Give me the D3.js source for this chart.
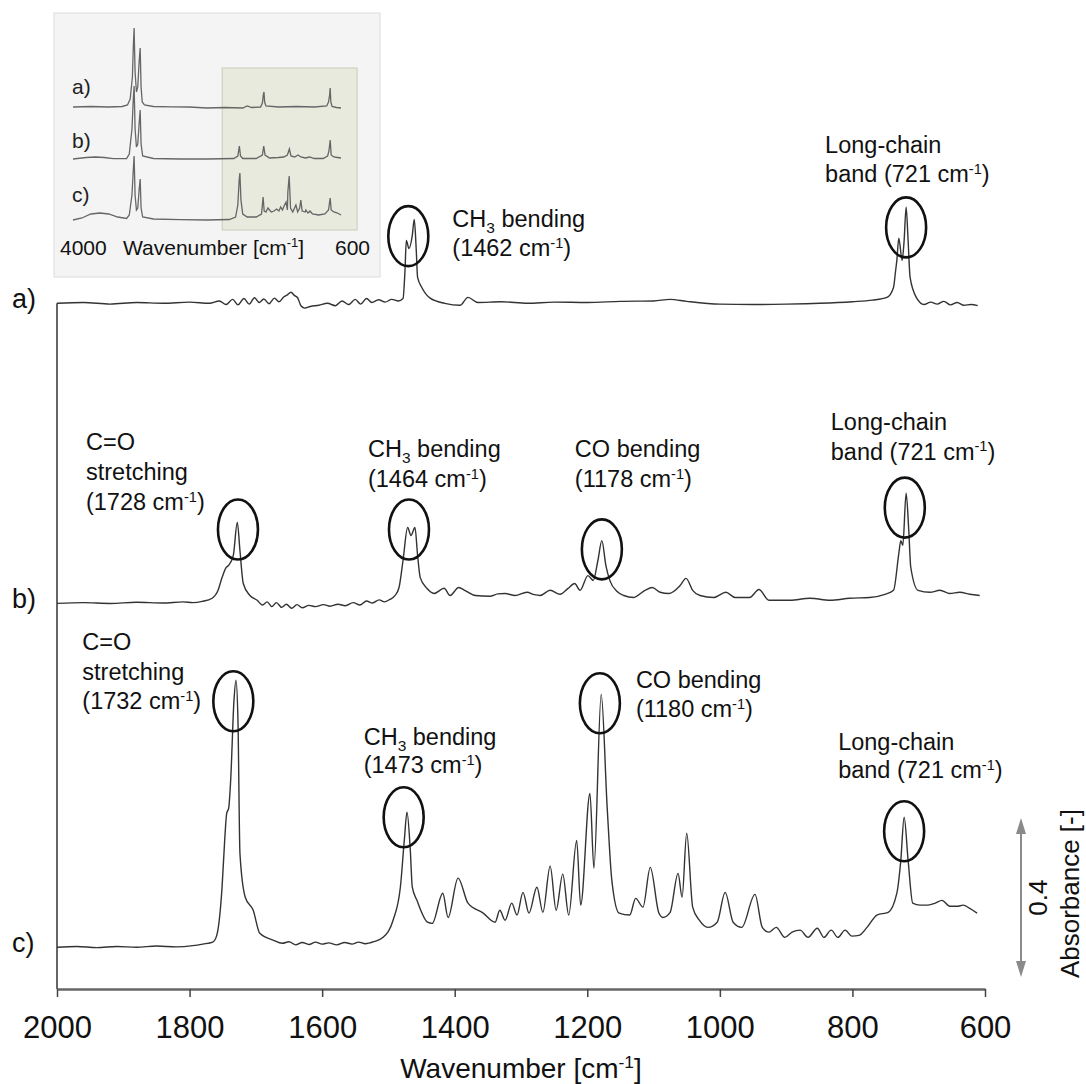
<!DOCTYPE html>
<html>
<head>
<meta charset="utf-8">
<script src="https://cdn.jsdelivr.net/npm/d3@7"></script>
<style>
  body { margin: 0; background: #fff; }
  svg { font-family: "Liberation Sans", Arial, sans-serif; }
</style>
</head>
<body>
<script>
const width = 1086;
const height = 1084;

// [wavenumber cm-1, absorbance above the trace's own baseline]
const spectrumA = [[2000,0],[1960,0.002],[1920,-0.002],[1880,0.002],[1840,0],[1800,0.003],[1770,0],[1755,0.006],[1745,-0.003],[1735,0.01],[1727,-0.004],[1718,0.012],[1710,-0.002],[1702,0.014],[1695,0.002],[1688,0.011],[1680,-0.001],[1672,0.013],[1665,0.004],[1658,0.016],[1652,0.022],[1647,0.028],[1642,0.02],[1637,0.014],[1632,-0.006],[1626,-0.012],[1618,-0.008],[1605,-0.005],[1592,0],[1580,-0.006],[1570,0.006],[1560,-0.003],[1550,0.01],[1542,-0.002],[1533,0.012],[1525,0.002],[1515,0.009],[1505,0.003],[1495,0.01],[1485,0.006],[1478,0.012],[1475,0.083],[1473,0.158],[1469,0.138],[1464,0.171],[1461,0.211],[1458,0.133],[1456,0.065],[1449,0.038],[1437,0.013],[1415,0],[1392,-0.005],[1380,0.015],[1365,0.002],[1330,0.004],[1290,0],[1250,0.003],[1200,0.002],[1150,0.005],[1100,0.006],[1075,0.01],[1050,0.005],[1000,-0.002],[950,-0.003],[900,-0.002],[850,0],[800,0.004],[770,0.008],[748,0.015],[738,0.04],[735,0.08],[733,0.108],[730,0.164],[725,0.108],[722,0.158],[719,0.242],[716,0.158],[713,0.065],[703,0.013],[692,-0.003],[682,0.003],[672,-0.002],[662,0.005],[652,-0.004],[642,0.002],[632,-0.005],[621,-0.003],[611,-0.006]];

const spectrumB = [[2000,0],[1960,0.002],[1920,0],[1880,0.003],[1840,0.001],[1810,0.004],[1795,0.002],[1781,0.005],[1766,0.013],[1757,0.033],[1751,0.065],[1745,0.09],[1741,0.096],[1734,0.121],[1728,0.204],[1724,0.133],[1719,0.05],[1709,0.02],[1698,0.008],[1690,-0.004],[1683,0.004],[1676,-0.008],[1669,0.002],[1661,-0.01],[1654,-0.002],[1646,-0.012],[1638,-0.003],[1630,-0.011],[1620,-0.005],[1610,-0.008],[1598,-0.003],[1588,-0.007],[1576,-0.002],[1565,-0.006],[1553,0.002],[1543,-0.004],[1533,0.006],[1524,0.001],[1514,0.009],[1506,0.004],[1498,0.01],[1490,0.02],[1484,0.04],[1478,0.108],[1471,0.191],[1466,0.171],[1460,0.191],[1456,0.121],[1452,0.065],[1442,0.038],[1431,0.025],[1416,0.038],[1407,0.02],[1394,0.04],[1385,0.033],[1369,0.02],[1347,0.018],[1335,0.024],[1324,0.025],[1309,0.02],[1291,0.028],[1280,0.022],[1271,0.02],[1256,0.033],[1241,0.023],[1229,0.038],[1219,0.05],[1211,0.033],[1199,0.07],[1191,0.058],[1184,0.108],[1178,0.158],[1172,0.096],[1166,0.058],[1155,0.03],[1145,0.02],[1130,0.015],[1113,0.033],[1102,0.04],[1090,0.028],[1077,0.025],[1060,0.045],[1051,0.063],[1041,0.033],[1030,0.02],[1009,0.015],[991,0.028],[977,0.015],[955,0.015],[941,0.035],[926,0.008],[894,0.008],[864,0.013],[834,0.008],[804,0.013],[774,0.015],[751,0.023],[738,0.033],[730,0.126],[727,0.158],[724,0.146],[719,0.277],[715,0.184],[712,0.091],[701,0.033],[683,0.028],[668,0.033],[653,0.025],[638,0.028],[623,0.023],[608,0.02]];

const spectrumC = [[2000,0],[1970,0.002],[1940,-0.001],[1910,0.002],[1880,0],[1850,0.003],[1820,0.001],[1795,0.004],[1780,0.008],[1765,0.013],[1759,0.03],[1751,0.151],[1747,0.27],[1744,0.337],[1741,0.35],[1738,0.42],[1733,0.621],[1730,0.672],[1727,0.571],[1724,0.236],[1716,0.126],[1704,0.093],[1694,0.035],[1674,0.018],[1660,0.01],[1650,0.014],[1640,0.006],[1630,0.012],[1620,0.007],[1610,0.013],[1600,0.008],[1590,0.011],[1578,0.006],[1566,0.012],[1555,0.008],[1545,0.013],[1535,0.009],[1522,0.014],[1508,0.025],[1493,0.068],[1482,0.151],[1476,0.27],[1472,0.34],[1467,0.244],[1464,0.151],[1457,0.118],[1441,0.063],[1434,0.06],[1418,0.136],[1410,0.075],[1395,0.174],[1380,0.111],[1357,0.086],[1339,0.063],[1332,0.093],[1324,0.068],[1314,0.111],[1306,0.081],[1297,0.138],[1288,0.086],[1276,0.151],[1267,0.088],[1256,0.204],[1247,0.093],[1237,0.184],[1228,0.081],[1216,0.269],[1210,0.106],[1196,0.387],[1190,0.199],[1179,0.636],[1170,0.352],[1163,0.169],[1152,0.086],[1136,0.081],[1127,0.123],[1116,0.101],[1105,0.201],[1092,0.086],[1086,0.075],[1075,0.088],[1063,0.186],[1057,0.126],[1050,0.287],[1041,0.101],[1031,0.068],[1018,0.05],[1004,0.063],[992,0.138],[980,0.063],[967,0.05],[947,0.133],[936,0.05],[926,0.038],[915,0.05],[902,0.025],[891,0.038],[879,0.043],[867,0.025],[853,0.048],[843,0.025],[832,0.043],[822,0.025],[811,0.043],[801,0.028],[790,0.03],[778,0.05],[763,0.081],[746,0.088],[733,0.136],[727,0.219],[722,0.327],[716,0.219],[709,0.111],[698,0.106],[686,0.106],[675,0.111],[665,0.118],[653,0.103],[642,0.103],[633,0.106],[623,0.098],[612,0.086]];

const traceNames = ["a)", "b)", "c)"];
const traceOffsets = [1.62, 0.865, 0];
const xTicks = [2000, 1800, 1600, 1400, 1200, 1000, 800, 600];

// overview inset, full range
const insetA = [[3600,0],[3400,0.005],[3200,0],[3050,0.005],[2990,0.02],[2960,0.08],[2935,0.3],[2925,0.6],[2916,0.79],[2905,0.35],[2890,0.15],[2875,0.2],[2860,0.45],[2848,0.59],[2838,0.2],[2825,0.05],[2800,0.02],[2700,0.005],[2500,0.002],[2300,0],[2100,-0.01],[1900,-0.005],[1700,-0.01],[1650,0.01],[1600,-0.005],[1500,0],[1480,0.04],[1470,0.12],[1462,0.15],[1455,0.05],[1440,0.01],[1300,0],[1100,0.005],[900,0],[760,0.01],[740,0.05],[727,0.12],[721,0.19],[714,0.05],[700,0.005],[650,-0.005],[600,-0.01]];
const insetB = [[3600,0],[3450,0.015],[3350,0.02],[3250,0.015],[3150,0.003],[3000,0.005],[2970,0.05],[2940,0.3],[2925,0.6],[2916,0.73],[2905,0.3],[2890,0.12],[2875,0.15],[2860,0.35],[2848,0.49],[2838,0.15],[2820,0.03],[2700,0.005],[2400,0],[2100,0],[1800,0.005],[1755,0.03],[1738,0.13],[1725,0.03],[1700,0.005],[1550,0.005],[1480,0.04],[1465,0.13],[1450,0.04],[1400,0.01],[1300,0.015],[1240,0.02],[1200,0.04],[1178,0.1],[1160,0.03],[1120,0.02],[1080,0.04],[1050,0.02],[1000,0.01],[950,0.02],[900,0.005],[800,0.005],[750,0.03],[735,0.08],[721,0.19],[710,0.04],[680,0.02],[640,0.015],[600,0.01]];
const insetC = [[3600,0],[3500,0.02],[3400,0.06],[3300,0.07],[3200,0.06],[3100,0.03],[3000,0.015],[2970,0.05],[2940,0.25],[2925,0.5],[2916,0.64],[2905,0.25],[2890,0.1],[2875,0.12],[2860,0.3],[2848,0.41],[2838,0.12],[2820,0.03],[2700,0.01],[2400,0.003],[2100,0],[1850,0.005],[1780,0.03],[1755,0.15],[1740,0.4],[1732,0.47],[1720,0.2],[1700,0.06],[1650,0.03],[1550,0.03],[1490,0.06],[1472,0.23],[1460,0.09],[1440,0.08],[1418,0.12],[1400,0.1],[1380,0.08],[1350,0.09],[1320,0.11],[1295,0.09],[1275,0.13],[1255,0.1],[1237,0.14],[1215,0.18],[1200,0.1],[1195,0.28],[1180,0.44],[1165,0.12],[1140,0.08],[1105,0.15],[1085,0.08],[1063,0.12],[1050,0.2],[1035,0.09],[1000,0.08],[993,0.1],[970,0.07],[947,0.09],[920,0.06],[850,0.05],[780,0.06],[740,0.1],[721,0.22],[710,0.1],[680,0.08],[640,0.07],[600,0.05]];
const insetOffsets = [1.13, 0.61, 0];
const insetZoomRange = [1930, 420];

// circled bands: trace index, circle centre (wavenumber, absorbance above baseline), label lines
const peakNotes = [
  { trace: 0, wn: 1470, abs: 0.169, dx: 44, dy: [-9, 20], lines: ["CH_{3} bending", "(1462 cm^{-1})"] },
  { trace: 0, wn: 719, abs: 0.191, dx: -81, dy: [-74, -45], lines: ["Long-chain", "band (721 cm^{-1})"] },
  { trace: 1, wn: 1727, abs: 0.186, dx: -152, dy: [-79, -49, -19], lines: ["C=O", "stretching", "(1728 cm^{-1})"] },
  { trace: 1, wn: 1469, abs: 0.186, dx: -41, dy: [-72, -42], lines: ["CH_{3} bending", "(1464 cm^{-1})"] },
  { trace: 1, wn: 1178, abs: 0.136, dx: -27, dy: [-92, -62], lines: ["CO bending", "(1178 cm^{-1})"] },
  { trace: 1, wn: 721, abs: 0.241, dx: -74, dy: [-78, -48], lines: ["Long-chain", "band (721 cm^{-1})"] },
  { trace: 2, wn: 1734, abs: 0.619, dx: -151, dy: [-51, -21, 8], lines: ["C=O", "stretching", "(1732 cm^{-1})"] },
  { trace: 2, wn: 1477, abs: 0.327, dx: -40, dy: [-72, -44], lines: ["CH_{3} bending", "(1473 cm^{-1})"] },
  { trace: 2, wn: 1181, abs: 0.614, dx: 36, dy: [-15, 14], lines: ["CO bending", "(1180 cm^{-1})"] },
  { trace: 2, wn: 722, abs: 0.292, dx: -66, dy: [-81, -53], lines: ["Long-chain", "band (721 cm^{-1})"] }
];

const scaleBarStart = -0.075;
const scaleBarLength = 0.4;

const spectra = [spectrumA, spectrumB, spectrumC];
const insetSpectra = [insetA, insetB, insetC];

const svg = d3.select("body")
  .append("svg")
  .attr("width", width)
  .attr("height", height);

const x = d3.scaleLinear().domain([2000, 600]).range([57, 985]);
const y = d3.scaleLinear().domain([-0.105, 1.72]).range([989, 989 - 1.825 * 397.5]);

// text with _{sub} and ^{sup} markup
function richText(sel, str, fs) {
  const parts = str.split(/(_\{[^}]*\}|\^\{[^}]*\})/).filter(s => s.length);
  let shift = 0;
  parts.forEach(p => {
    const t = sel.append("tspan");
    if (p.startsWith("_{")) {
      t.attr("dy", fs * 0.25 - shift).attr("font-size", fs * 0.66).text(p.slice(2, -1));
      shift = fs * 0.25;
    } else if (p.startsWith("^{")) {
      t.attr("dy", -fs * 0.36 - shift).attr("font-size", fs * 0.62).text(p.slice(2, -1));
      shift = -fs * 0.36;
    } else {
      t.attr("dy", -shift).text(p);
      shift = 0;
    }
  });
}

// ---- inset overview ----
const inset = svg.append("g");
const ix = d3.scaleLinear().domain([3600, 600]).range([73, 341]);
const iy = d3.scaleLinear().domain([0, 1]).range([220, 120]);

inset.append("rect")
  .attr("x", 54).attr("y", 13)
  .attr("width", 326).attr("height", 264)
  .attr("fill", "#f4f4f4")
  .attr("stroke", "#dcdcdc");

inset.append("rect")
  .attr("x", ix(insetZoomRange[0]))
  .attr("y", iy(1.52))
  .attr("width", ix(insetZoomRange[1]) - ix(insetZoomRange[0]))
  .attr("height", iy(-0.1) - iy(1.52))
  .attr("fill", "#e7eadd")
  .attr("stroke", "#c9cdb9");

insetSpectra.forEach((s, i) => {
  inset.append("path")
    .attr("fill", "none")
    .attr("stroke", "#666")
    .attr("stroke-width", 1.3)
    .attr("d", d3.line().x(d => ix(d[0])).y(d => iy(d[1] + insetOffsets[i]))(s));
});

const insetLabelDy = [-13, -11, -18];
traceNames.forEach((n, i) => {
  inset.append("text")
    .attr("x", 72)
    .attr("y", iy(insetOffsets[i]) + insetLabelDy[i])
    .attr("font-size", 21)
    .attr("fill", "#222")
    .text(n);
});

inset.append("text")
  .attr("x", 60).attr("y", 255)
  .attr("font-size", 21).attr("fill", "#111")
  .text("4000");
inset.append("text")
  .attr("x", 370).attr("y", 255)
  .attr("text-anchor", "end")
  .attr("font-size", 21).attr("fill", "#111")
  .text("600");
richText(inset.append("text")
  .attr("x", 123).attr("y", 255)
  .attr("font-size", 21).attr("fill", "#111"), "Wavenumber [cm^{-1}]", 21);

// ---- main axes ----
const xAxis = svg.append("g")
  .attr("transform", `translate(0,${y(-0.105)})`)
  .call(d3.axisBottom(x).tickValues(xTicks).tickSizeInner(8).tickSizeOuter(0).tickPadding(19).tickFormat(d3.format("d")));

xAxis.select(".domain").attr("stroke", "#666").attr("stroke-width", 2.5);
xAxis.selectAll(".tick line").attr("stroke", "#444").attr("stroke-width", 1.5);
xAxis.selectAll(".tick text")
  .attr("font-size", 31)
  .attr("font-family", "Liberation Sans, Arial, sans-serif")
  .attr("fill", "#111");

richText(svg.append("text")
  .attr("x", (x(2000) + x(600)) / 2)
  .attr("y", 1078)
  .attr("text-anchor", "middle")
  .attr("font-size", 28)
  .attr("fill", "#111"), "Wavenumber [cm^{-1}]", 28);

svg.append("line")
  .attr("x1", x(2000)).attr("x2", x(2000))
  .attr("y1", y(traceOffsets[0])).attr("y2", y(-0.105))
  .attr("stroke", "#333")
  .attr("stroke-width", 1.5);

// ---- spectra ----
const line = d3.line().x(d => x(d[0])).y(d => y(d[1])).curve(d3.curveMonotoneX);

spectra.forEach((s, i) => {
  svg.append("path")
    .attr("fill", "none")
    .attr("stroke", "#333")
    .attr("stroke-width", 1.4)
    .attr("stroke-linejoin", "round")
    .attr("d", line(s.map(d => [d[0], d[1] + traceOffsets[i]])));

  svg.append("text")
    .attr("x", 12)
    .attr("y", y(traceOffsets[i]) + 5)
    .attr("font-size", 27)
    .attr("fill", "#111")
    .text(traceNames[i]);
});

// ---- circled bands ----
peakNotes.forEach(n => {
  const cx = x(n.wn);
  const cy = y(n.abs + traceOffsets[n.trace]);
  svg.append("ellipse")
    .attr("cx", cx).attr("cy", cy)
    .attr("rx", 20).attr("ry", 30)
    .attr("fill", "none")
    .attr("stroke", "#111")
    .attr("stroke-width", 2.6);
  n.lines.forEach((t, k) => {
    richText(svg.append("text")
      .attr("x", cx + n.dx)
      .attr("y", cy + n.dy[k])
      .attr("font-size", 23.5)
      .attr("fill", "#111"), t, 23.5);
  });
});

// ---- absorbance scale bar ----
const barX = 1021;
const barTop = y(scaleBarStart + scaleBarLength);
const barBottom = y(scaleBarStart);
svg.append("line")
  .attr("x1", barX).attr("x2", barX)
  .attr("y1", barTop + 12).attr("y2", barBottom - 12)
  .attr("stroke", "#8a8a8a")
  .attr("stroke-width", 2);
svg.append("path")
  .attr("fill", "#8a8a8a")
  .attr("d", `M${barX},${barTop} L${barX - 5},${barTop + 16} L${barX + 5},${barTop + 16} Z`);
svg.append("path")
  .attr("fill", "#8a8a8a")
  .attr("d", `M${barX},${barBottom} L${barX - 5},${barBottom - 16} L${barX + 5},${barBottom - 16} Z`);

svg.append("text")
  .attr("transform", `translate(${barX + 26},${(barTop + barBottom) / 2}) rotate(-90)`)
  .attr("text-anchor", "middle")
  .attr("font-size", 26)
  .attr("fill", "#111")
  .text("0.4");

svg.append("text")
  .attr("transform", `translate(${barX + 58},${(barTop + barBottom) / 2 - 4}) rotate(-90)`)
  .attr("text-anchor", "middle")
  .attr("font-size", 26)
  .attr("fill", "#111")
  .text("Absorbance [-]");
</script>
</body>
</html>
